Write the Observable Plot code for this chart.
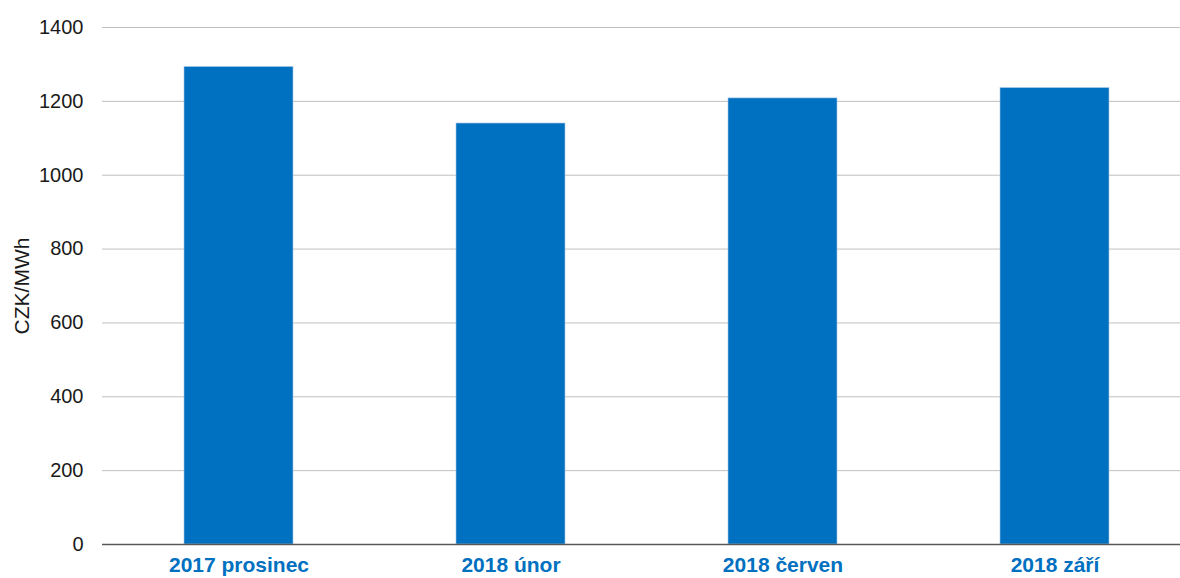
<!DOCTYPE html>
<html>
<head>
<meta charset="utf-8">
<script src="https://cdn.jsdelivr.net/npm/d3@7"></script>
<script src="https://cdn.jsdelivr.net/npm/@observablehq/plot@0.6"></script>
<style>
  html, body { margin: 0; padding: 0; background: #fff; }
  #chart svg { display: block; }
  g[aria-label="x-axis tick label"] text { font-weight: bold; }
  g[aria-label="y-axis label"] text { font-size: 21px; }
</style>
</head>
<body>
<div id="chart"></div>
<script>
const categories = ["2017 prosinec", "2018 únor", "2018 červen", "2018 září"];
const values = [1293, 1140, 1208, 1236];
const yTicks = [0, 200, 400, 600, 800, 1000, 1200, 1400];
const yLabel = "CZK/MWh";

const data = categories.map((c, i) => ({category: c, value: values[i]}));

const chart = Plot.plot({
  width: 1180,
  height: 578,
  marginTop: 27,
  marginBottom: 34,
  marginLeft: 102,
  marginRight: 0,
  style: {fontFamily: "'Liberation Sans', Arial, sans-serif", fontSize: "20px", background: "#fff", color: "#000"},
  x: {domain: categories, range: [102, 1190], paddingInner: 0.6, paddingOuter: 0.3, label: null},
  y: {domain: [0, 1400], ticks: yTicks, label: null},
  marks: [
    Plot.gridY(yTicks, {stroke: "#bfbfbf", strokeOpacity: 1, strokeWidth: 1}),
    Plot.barY(data, {x: "category", y: "value", fill: "#0070c0", stroke: "#a9c8e8", strokeWidth: 0.6}),
    Plot.ruleY([0], {stroke: "#595959", strokeWidth: 1.5}),
    Plot.axisY(yTicks, {tickSize: 0, tickPadding: 19, fontSize: 20, color: "#1a1a1a",
      tickFormat: d => String(d),
      label: yLabel, labelAnchor: "center", labelArrow: "none", labelOffset: 88}),
    Plot.axisX({tickSize: 0, tickPadding: 13, fontSize: 21, fontWeight: "bold", color: "#0070c0"})
  ]
});
document.getElementById("chart").appendChild(chart);
</script>
</body>
</html>
